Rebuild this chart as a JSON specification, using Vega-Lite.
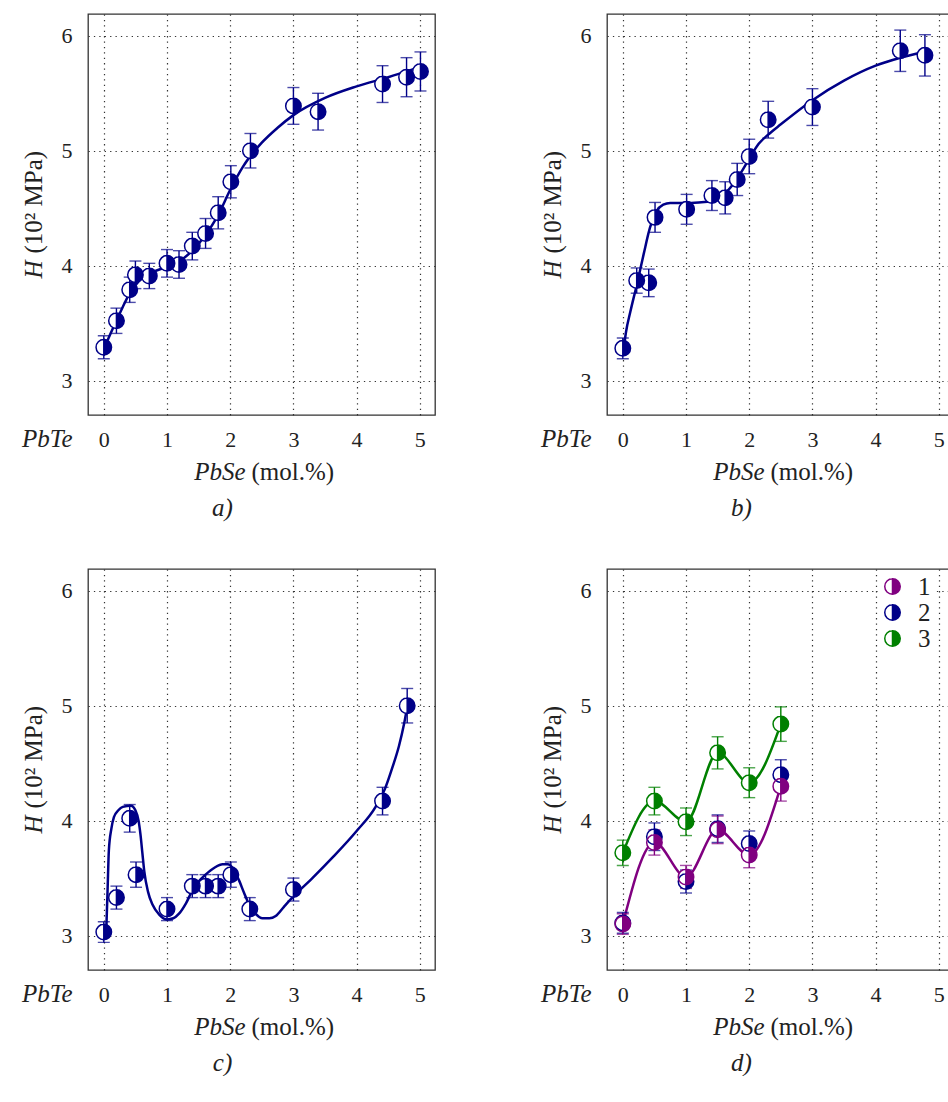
{
  "$schema": "https://vega.github.io/schema/vega-lite/v6.json",
  "padding": {"left": 20, "top": 13, "right": 0, "bottom": 0},
  "background": "white",
  "columns": 2,
  "spacing": {"row": 154, "column": 172},
  "bounds": "flush",
  "datasets": {
    "a": [
      {"x": 0, "y": 3.29, "err": 0.10}, {"x": 0.2, "y": 3.52, "err": 0.11}, {"x": 0.41, "y": 3.79, "err": 0.11},
      {"x": 0.5, "y": 3.92, "err": 0.12}, {"x": 0.72, "y": 3.91, "err": 0.11}, {"x": 1.0, "y": 4.02, "err": 0.12},
      {"x": 1.19, "y": 4.01, "err": 0.12}, {"x": 1.4, "y": 4.17, "err": 0.12}, {"x": 1.61, "y": 4.28, "err": 0.13},
      {"x": 1.81, "y": 4.46, "err": 0.14}, {"x": 2.01, "y": 4.73, "err": 0.14}, {"x": 2.32, "y": 5.0, "err": 0.15},
      {"x": 3.0, "y": 5.39, "err": 0.16}, {"x": 3.39, "y": 5.34, "err": 0.16}, {"x": 4.41, "y": 5.58, "err": 0.16},
      {"x": 4.79, "y": 5.64, "err": 0.17}, {"x": 5.01, "y": 5.69, "err": 0.17}
    ],
    "ca": [
      {"x": 0.0, "y": 3.27}, {"x": 0.1, "y": 3.4}, {"x": 0.2, "y": 3.52}, {"x": 0.3, "y": 3.64}, {"x": 0.4, "y": 3.75},
      {"x": 0.5, "y": 3.83}, {"x": 0.6, "y": 3.89}, {"x": 0.8, "y": 3.95}, {"x": 1.0, "y": 3.99}, {"x": 1.2, "y": 4.04},
      {"x": 1.4, "y": 4.13}, {"x": 1.6, "y": 4.26}, {"x": 1.8, "y": 4.43}, {"x": 2.0, "y": 4.66}, {"x": 2.2, "y": 4.86},
      {"x": 2.5, "y": 5.07}, {"x": 2.75, "y": 5.2}, {"x": 3.0, "y": 5.31}, {"x": 3.5, "y": 5.46}, {"x": 4.0, "y": 5.56},
      {"x": 4.5, "y": 5.64}, {"x": 4.9, "y": 5.71}
    ],
    "b": [
      {"x": 0, "y": 3.28, "err": 0.09}, {"x": 0.22, "y": 3.87, "err": 0.11}, {"x": 0.41, "y": 3.85, "err": 0.12},
      {"x": 0.51, "y": 4.42, "err": 0.13}, {"x": 1.01, "y": 4.49, "err": 0.13}, {"x": 1.41, "y": 4.61, "err": 0.13},
      {"x": 1.62, "y": 4.59, "err": 0.14}, {"x": 1.81, "y": 4.75, "err": 0.14}, {"x": 2.0, "y": 4.95, "err": 0.15},
      {"x": 2.3, "y": 5.27, "err": 0.16}, {"x": 3.0, "y": 5.38, "err": 0.16}, {"x": 4.39, "y": 5.87, "err": 0.18},
      {"x": 4.78, "y": 5.83, "err": 0.18}
    ],
    "cb": [
      {"x": 0.02, "y": 3.3}, {"x": 0.05, "y": 3.42}, {"x": 0.12, "y": 3.6}, {"x": 0.22, "y": 3.83}, {"x": 0.33, "y": 4.1},
      {"x": 0.43, "y": 4.33}, {"x": 0.53, "y": 4.47}, {"x": 0.64, "y": 4.53}, {"x": 0.75, "y": 4.545}, {"x": 1.0, "y": 4.545},
      {"x": 1.2, "y": 4.55}, {"x": 1.4, "y": 4.56}, {"x": 1.6, "y": 4.62}, {"x": 1.8, "y": 4.75}, {"x": 2.0, "y": 4.93},
      {"x": 2.15, "y": 5.06}, {"x": 2.3, "y": 5.14}, {"x": 2.5, "y": 5.23}, {"x": 3.0, "y": 5.44}, {"x": 3.5, "y": 5.61},
      {"x": 4.0, "y": 5.74}, {"x": 4.4, "y": 5.81}, {"x": 4.75, "y": 5.86}
    ],
    "c": [
      {"x": 0, "y": 3.03, "err": 0.09}, {"x": 0.2, "y": 3.33, "err": 0.10}, {"x": 0.41, "y": 4.02, "err": 0.12},
      {"x": 0.51, "y": 3.53, "err": 0.11}, {"x": 1.0, "y": 3.23, "err": 0.10}, {"x": 1.4, "y": 3.43, "err": 0.10},
      {"x": 1.61, "y": 3.43, "err": 0.10}, {"x": 1.81, "y": 3.43, "err": 0.10}, {"x": 2.01, "y": 3.53, "err": 0.11},
      {"x": 2.31, "y": 3.23, "err": 0.10}, {"x": 3.0, "y": 3.4, "err": 0.10}, {"x": 4.41, "y": 4.17, "err": 0.12},
      {"x": 4.8, "y": 5.0, "err": 0.15}
    ],
    "cc": [
      {"x": 0.04, "y": 3.06}, {"x": 0.06, "y": 3.4}, {"x": 0.08, "y": 3.74}, {"x": 0.12, "y": 3.93}, {"x": 0.16, "y": 4.03},
      {"x": 0.23, "y": 4.09}, {"x": 0.3, "y": 4.12}, {"x": 0.43, "y": 4.13}, {"x": 0.5, "y": 4.09}, {"x": 0.55, "y": 4.0},
      {"x": 0.58, "y": 3.88}, {"x": 0.61, "y": 3.72}, {"x": 0.64, "y": 3.56}, {"x": 0.7, "y": 3.38}, {"x": 0.77, "y": 3.27},
      {"x": 0.88, "y": 3.18}, {"x": 1.0, "y": 3.14}, {"x": 1.1, "y": 3.15}, {"x": 1.19, "y": 3.19}, {"x": 1.3, "y": 3.28},
      {"x": 1.4, "y": 3.39}, {"x": 1.5, "y": 3.47}, {"x": 1.61, "y": 3.53}, {"x": 1.75, "y": 3.59}, {"x": 1.88, "y": 3.62},
      {"x": 1.96, "y": 3.62}, {"x": 2.05, "y": 3.58}, {"x": 2.14, "y": 3.48}, {"x": 2.22, "y": 3.37}, {"x": 2.3, "y": 3.27},
      {"x": 2.4, "y": 3.19}, {"x": 2.51, "y": 3.15}, {"x": 2.62, "y": 3.15}, {"x": 2.72, "y": 3.17}, {"x": 2.85, "y": 3.25},
      {"x": 3.0, "y": 3.34}, {"x": 3.3, "y": 3.5}, {"x": 3.62, "y": 3.68}, {"x": 4.0, "y": 3.91}, {"x": 4.3, "y": 4.12},
      {"x": 4.45, "y": 4.28}, {"x": 4.57, "y": 4.47}, {"x": 4.67, "y": 4.65}, {"x": 4.75, "y": 4.84}, {"x": 4.8, "y": 4.99}
    ],
    "d": [
      {"x": 0, "y": 3.72, "err": 0.11, "s": "3"}, {"x": 0.5, "y": 4.17, "err": 0.12, "s": "3"}, {"x": 1.0, "y": 3.99, "err": 0.12, "s": "3"},
      {"x": 1.5, "y": 4.59, "err": 0.14, "s": "3"}, {"x": 2.0, "y": 4.33, "err": 0.13, "s": "3"}, {"x": 2.5, "y": 4.84, "err": 0.15, "s": "3"},
      {"x": 0, "y": 3.11, "err": 0.09, "s": "2"}, {"x": 0.5, "y": 3.86, "err": 0.12, "s": "2"}, {"x": 1.0, "y": 3.47, "err": 0.10, "s": "2"},
      {"x": 1.5, "y": 3.93, "err": 0.12, "s": "2"}, {"x": 2.0, "y": 3.8, "err": 0.11, "s": "2"}, {"x": 2.5, "y": 4.4, "err": 0.13, "s": "2"},
      {"x": 0, "y": 3.1, "err": 0.09, "s": "1"}, {"x": 0.5, "y": 3.81, "err": 0.11, "s": "1"}, {"x": 1.0, "y": 3.51, "err": 0.10, "s": "1"},
      {"x": 1.5, "y": 3.92, "err": 0.12, "s": "1"}, {"x": 2.0, "y": 3.7, "err": 0.11, "s": "1"}, {"x": 2.5, "y": 4.3, "err": 0.13, "s": "1"}
    ]
  },
  "concat": [
    {
      "width": 347, "height": 401,
      "layer": [
        {"data": {"name": "ca"}, "mark": {"type": "line", "color": "#000088", "strokeWidth": 2.5, "interpolate": "monotone"},
         "encoding": {
           "x": {"field": "x", "type": "quantitative", "scale": {"domain": [-0.25, 5.24], "nice": false, "zero": false},
                 "axis": {"orient": "bottom", "values": [0, 1, 2, 3, 4, 5], "format": "d", "grid": true, "labels": true, "labelBaseline": "alphabetic", "labelPadding": 31, "labelFlush": false, "labelOverlap": false, "title": "a)", "titleX": 134, "titleY": 100, "titleAlign": "center", "titleBaseline": "alphabetic", "titleFontStyle": "italic"}},
           "y": {"field": "y", "type": "quantitative", "scale": {"domain": [2.7, 6.19], "nice": false, "zero": false},
                 "axis": {"orient": "left", "values": [3, 3.5, 4, 4.5, 5, 5.5, 6], "format": "d", "labelExpr": "datum.value % 1 === 0 ? datum.label : ''", "labelPadding": 16, "labelBaseline": "middle", "labelFlush": false, "labelOverlap": false, "grid": true, "title": null}}
         }},
        {"data": {"name": "a"}, "mark": {"type": "errorbar", "color": "#000088", "thickness": 1.4, "ticks": {"size": 12, "thickness": 1.4}},
         "encoding": {
           "x": {"field": "x", "type": "quantitative", "scale": {"domain": [-0.25, 5.24], "nice": false, "zero": false},
                 "axis": {"orient": "bottom", "grid": false, "labels": false, "title": "(mol.%)", "titleX": 163, "titleY": 64, "titleAlign": "left", "titleBaseline": "alphabetic", "titleFontStyle": "normal"}},
           "y": {"field": "y", "type": "quantitative", "scale": {"domain": [2.7, 6.19], "nice": false, "zero": false}, "axis": null},
           "yError": {"field": "err"}
         }},
        {"data": {"name": "a"}, "mark": {"type": "point", "shape": "circle", "filled": true, "fill": "white", "size": 240, "opacity": 1, "strokeWidth": 0},
         "encoding": {
           "x": {"field": "x", "type": "quantitative", "scale": {"domain": [-0.25, 5.24], "nice": false, "zero": false},
                 "axis": {"orient": "bottom", "grid": false, "labels": false, "title": "PbTe", "titleX": -16, "titleY": 31, "titleAlign": "right", "titleBaseline": "alphabetic", "titleFontStyle": "italic"}},
           "y": {"field": "y", "type": "quantitative", "scale": {"domain": [2.7, 6.19], "nice": false, "zero": false},
                 "axis": {"orient": "left", "grid": false, "labels": false, "title": "H", "titleX": -47, "titleY": 264, "titleAngle": -90, "titleAlign": "left", "titleBaseline": "alphabetic", "titleFontStyle": "italic"}}
         }},
        {"data": {"name": "a"}, "mark": {"type": "point", "shape": "M0,-1A1,1,0,0,1,0,1ZM0,-1A1,1,0,0,0,0,1A1,1,0,0,1,0,-1", "filled": true, "fill": "#000088", "stroke": "#000088", "strokeWidth": 1.5, "size": 240, "opacity": 1},
         "encoding": {
           "x": {"field": "x", "type": "quantitative", "scale": {"domain": [-0.25, 5.24], "nice": false, "zero": false},
                 "axis": {"orient": "bottom", "grid": false, "labels": false, "title": "PbSe", "titleX": 157, "titleY": 64, "titleAlign": "right", "titleBaseline": "alphabetic", "titleFontStyle": "italic"}},
           "y": {"field": "y", "type": "quantitative", "scale": {"domain": [2.7, 6.19], "nice": false, "zero": false},
                 "axis": {"orient": "left", "grid": false, "labels": false, "title": "(10² MPa)", "titleX": -47, "titleY": 239, "titleAngle": -90, "titleAlign": "left", "titleBaseline": "alphabetic", "titleFontStyle": "normal"}}
         }}
      ],
      "resolve": {"axis": {"x": "independent", "y": "independent"}}
    },
    {
      "width": 347, "height": 401,
      "layer": [
        {"data": {"name": "cb"}, "mark": {"type": "line", "color": "#000088", "strokeWidth": 2.5, "interpolate": "monotone"},
         "encoding": {
           "x": {"field": "x", "type": "quantitative", "scale": {"domain": [-0.25, 5.24], "nice": false, "zero": false},
                 "axis": {"orient": "bottom", "values": [0, 1, 2, 3, 4, 5], "format": "d", "grid": true, "labels": true, "labelBaseline": "alphabetic", "labelPadding": 31, "labelFlush": false, "labelOverlap": false, "title": "b)", "titleX": 134, "titleY": 100, "titleAlign": "center", "titleBaseline": "alphabetic", "titleFontStyle": "italic"}},
           "y": {"field": "y", "type": "quantitative", "scale": {"domain": [2.7, 6.19], "nice": false, "zero": false},
                 "axis": {"orient": "left", "values": [3, 3.5, 4, 4.5, 5, 5.5, 6], "format": "d", "labelExpr": "datum.value % 1 === 0 ? datum.label : ''", "labelPadding": 16, "labelBaseline": "middle", "labelFlush": false, "labelOverlap": false, "grid": true, "title": null}}
         }},
        {"data": {"name": "b"}, "mark": {"type": "errorbar", "color": "#000088", "thickness": 1.4, "ticks": {"size": 12, "thickness": 1.4}},
         "encoding": {
           "x": {"field": "x", "type": "quantitative", "scale": {"domain": [-0.25, 5.24], "nice": false, "zero": false},
                 "axis": {"orient": "bottom", "grid": false, "labels": false, "title": "(mol.%)", "titleX": 163, "titleY": 64, "titleAlign": "left", "titleBaseline": "alphabetic", "titleFontStyle": "normal"}},
           "y": {"field": "y", "type": "quantitative", "scale": {"domain": [2.7, 6.19], "nice": false, "zero": false}, "axis": null},
           "yError": {"field": "err"}
         }},
        {"data": {"name": "b"}, "mark": {"type": "point", "shape": "circle", "filled": true, "fill": "white", "size": 240, "opacity": 1, "strokeWidth": 0},
         "encoding": {
           "x": {"field": "x", "type": "quantitative", "scale": {"domain": [-0.25, 5.24], "nice": false, "zero": false},
                 "axis": {"orient": "bottom", "grid": false, "labels": false, "title": "PbTe", "titleX": -16, "titleY": 31, "titleAlign": "right", "titleBaseline": "alphabetic", "titleFontStyle": "italic"}},
           "y": {"field": "y", "type": "quantitative", "scale": {"domain": [2.7, 6.19], "nice": false, "zero": false},
                 "axis": {"orient": "left", "grid": false, "labels": false, "title": "H", "titleX": -47, "titleY": 264, "titleAngle": -90, "titleAlign": "left", "titleBaseline": "alphabetic", "titleFontStyle": "italic"}}
         }},
        {"data": {"name": "b"}, "mark": {"type": "point", "shape": "M0,-1A1,1,0,0,1,0,1ZM0,-1A1,1,0,0,0,0,1A1,1,0,0,1,0,-1", "filled": true, "fill": "#000088", "stroke": "#000088", "strokeWidth": 1.5, "size": 240, "opacity": 1},
         "encoding": {
           "x": {"field": "x", "type": "quantitative", "scale": {"domain": [-0.25, 5.24], "nice": false, "zero": false},
                 "axis": {"orient": "bottom", "grid": false, "labels": false, "title": "PbSe", "titleX": 157, "titleY": 64, "titleAlign": "right", "titleBaseline": "alphabetic", "titleFontStyle": "italic"}},
           "y": {"field": "y", "type": "quantitative", "scale": {"domain": [2.7, 6.19], "nice": false, "zero": false},
                 "axis": {"orient": "left", "grid": false, "labels": false, "title": "(10² MPa)", "titleX": -47, "titleY": 239, "titleAngle": -90, "titleAlign": "left", "titleBaseline": "alphabetic", "titleFontStyle": "normal"}}
         }}
      ],
      "resolve": {"axis": {"x": "independent", "y": "independent"}}
    },
    {
      "width": 347, "height": 401,
      "layer": [
        {"data": {"name": "cc"}, "mark": {"type": "line", "color": "#000088", "strokeWidth": 2.5, "interpolate": "monotone"},
         "encoding": {
           "x": {"field": "x", "type": "quantitative", "scale": {"domain": [-0.25, 5.24], "nice": false, "zero": false},
                 "axis": {"orient": "bottom", "values": [0, 1, 2, 3, 4, 5], "format": "d", "grid": true, "labels": true, "labelBaseline": "alphabetic", "labelPadding": 31, "labelFlush": false, "labelOverlap": false, "title": "c)", "titleX": 134, "titleY": 100, "titleAlign": "center", "titleBaseline": "alphabetic", "titleFontStyle": "italic"}},
           "y": {"field": "y", "type": "quantitative", "scale": {"domain": [2.7, 6.19], "nice": false, "zero": false},
                 "axis": {"orient": "left", "values": [3, 3.5, 4, 4.5, 5, 5.5, 6], "format": "d", "labelExpr": "datum.value % 1 === 0 ? datum.label : ''", "labelPadding": 16, "labelBaseline": "middle", "labelFlush": false, "labelOverlap": false, "grid": true, "title": null}}
         }},
        {"data": {"name": "c"}, "mark": {"type": "errorbar", "color": "#000088", "thickness": 1.4, "ticks": {"size": 12, "thickness": 1.4}},
         "encoding": {
           "x": {"field": "x", "type": "quantitative", "scale": {"domain": [-0.25, 5.24], "nice": false, "zero": false},
                 "axis": {"orient": "bottom", "grid": false, "labels": false, "title": "(mol.%)", "titleX": 163, "titleY": 64, "titleAlign": "left", "titleBaseline": "alphabetic", "titleFontStyle": "normal"}},
           "y": {"field": "y", "type": "quantitative", "scale": {"domain": [2.7, 6.19], "nice": false, "zero": false}, "axis": null},
           "yError": {"field": "err"}
         }},
        {"data": {"name": "c"}, "mark": {"type": "point", "shape": "circle", "filled": true, "fill": "white", "size": 240, "opacity": 1, "strokeWidth": 0},
         "encoding": {
           "x": {"field": "x", "type": "quantitative", "scale": {"domain": [-0.25, 5.24], "nice": false, "zero": false},
                 "axis": {"orient": "bottom", "grid": false, "labels": false, "title": "PbTe", "titleX": -16, "titleY": 31, "titleAlign": "right", "titleBaseline": "alphabetic", "titleFontStyle": "italic"}},
           "y": {"field": "y", "type": "quantitative", "scale": {"domain": [2.7, 6.19], "nice": false, "zero": false},
                 "axis": {"orient": "left", "grid": false, "labels": false, "title": "H", "titleX": -47, "titleY": 264, "titleAngle": -90, "titleAlign": "left", "titleBaseline": "alphabetic", "titleFontStyle": "italic"}}
         }},
        {"data": {"name": "c"}, "mark": {"type": "point", "shape": "M0,-1A1,1,0,0,1,0,1ZM0,-1A1,1,0,0,0,0,1A1,1,0,0,1,0,-1", "filled": true, "fill": "#000088", "stroke": "#000088", "strokeWidth": 1.5, "size": 240, "opacity": 1},
         "encoding": {
           "x": {"field": "x", "type": "quantitative", "scale": {"domain": [-0.25, 5.24], "nice": false, "zero": false},
                 "axis": {"orient": "bottom", "grid": false, "labels": false, "title": "PbSe", "titleX": 157, "titleY": 64, "titleAlign": "right", "titleBaseline": "alphabetic", "titleFontStyle": "italic"}},
           "y": {"field": "y", "type": "quantitative", "scale": {"domain": [2.7, 6.19], "nice": false, "zero": false},
                 "axis": {"orient": "left", "grid": false, "labels": false, "title": "(10² MPa)", "titleX": -47, "titleY": 239, "titleAngle": -90, "titleAlign": "left", "titleBaseline": "alphabetic", "titleFontStyle": "normal"}}
         }}
      ],
      "resolve": {"axis": {"x": "independent", "y": "independent"}}
    },
    {
      "width": 347, "height": 401,
      "layer": [
        {"data": {"name": "d"}, "transform": [{"filter": "datum.s !== '2'"}],
         "mark": {"type": "line", "strokeWidth": 2.5, "interpolate": "monotone"},
         "encoding": {
           "x": {"field": "x", "type": "quantitative", "scale": {"domain": [-0.25, 5.24], "nice": false, "zero": false},
                 "axis": {"orient": "bottom", "values": [0, 1, 2, 3, 4, 5], "format": "d", "grid": true, "labels": true, "labelBaseline": "alphabetic", "labelPadding": 31, "labelFlush": false, "labelOverlap": false, "title": "d)", "titleX": 134, "titleY": 100, "titleAlign": "center", "titleBaseline": "alphabetic", "titleFontStyle": "italic"}},
           "y": {"field": "y", "type": "quantitative", "scale": {"domain": [2.7, 6.19], "nice": false, "zero": false},
                 "axis": {"orient": "left", "values": [3, 3.5, 4, 4.5, 5, 5.5, 6], "format": "d", "labelExpr": "datum.value % 1 === 0 ? datum.label : ''", "labelPadding": 16, "labelBaseline": "middle", "labelFlush": false, "labelOverlap": false, "grid": true, "title": null}},
           "color": {"field": "s", "type": "nominal", "scale": {"domain": ["1", "2", "3"], "range": ["#800080", "#000088", "#008000"]}, "legend": null}
         }},
        {"data": {"name": "d"}, "mark": {"type": "errorbar", "thickness": 1.4, "ticks": {"size": 12, "thickness": 1.4}},
         "encoding": {
           "x": {"field": "x", "type": "quantitative", "scale": {"domain": [-0.25, 5.24], "nice": false, "zero": false},
                 "axis": {"orient": "bottom", "grid": false, "labels": false, "title": "(mol.%)", "titleX": 163, "titleY": 64, "titleAlign": "left", "titleBaseline": "alphabetic", "titleFontStyle": "normal"}},
           "y": {"field": "y", "type": "quantitative", "scale": {"domain": [2.7, 6.19], "nice": false, "zero": false}, "axis": null},
           "yError": {"field": "err"},
           "color": {"field": "s", "type": "nominal", "scale": {"domain": ["1", "2", "3"], "range": ["#800080", "#000088", "#008000"]}, "legend": null}
         }},
        {"data": {"name": "d"}, "mark": {"type": "point", "shape": "circle", "filled": true, "fill": "white", "size": 240, "opacity": 1, "strokeWidth": 0},
         "encoding": {
           "x": {"field": "x", "type": "quantitative", "scale": {"domain": [-0.25, 5.24], "nice": false, "zero": false},
                 "axis": {"orient": "bottom", "grid": false, "labels": false, "title": "PbTe", "titleX": -16, "titleY": 31, "titleAlign": "right", "titleBaseline": "alphabetic", "titleFontStyle": "italic"}},
           "y": {"field": "y", "type": "quantitative", "scale": {"domain": [2.7, 6.19], "nice": false, "zero": false},
                 "axis": {"orient": "left", "grid": false, "labels": false, "title": "H", "titleX": -47, "titleY": 264, "titleAngle": -90, "titleAlign": "left", "titleBaseline": "alphabetic", "titleFontStyle": "italic"}}
         }},
        {"data": {"name": "d"}, "mark": {"type": "point", "shape": "M0,-1A1,1,0,0,1,0,1ZM0,-1A1,1,0,0,0,0,1A1,1,0,0,1,0,-1", "filled": true, "strokeWidth": 1.5, "size": 240, "opacity": 1},
         "encoding": {
           "x": {"field": "x", "type": "quantitative", "scale": {"domain": [-0.25, 5.24], "nice": false, "zero": false},
                 "axis": {"orient": "bottom", "grid": false, "labels": false, "title": "PbSe", "titleX": 157, "titleY": 64, "titleAlign": "right", "titleBaseline": "alphabetic", "titleFontStyle": "italic"}},
           "y": {"field": "y", "type": "quantitative", "scale": {"domain": [2.7, 6.19], "nice": false, "zero": false},
                 "axis": {"orient": "left", "grid": false, "labels": false, "title": "(10² MPa)", "titleX": -47, "titleY": 239, "titleAngle": -90, "titleAlign": "left", "titleBaseline": "alphabetic", "titleFontStyle": "normal"}},
           "color": {"field": "s", "type": "nominal", "scale": {"domain": ["1", "2", "3"], "range": ["#800080", "#000088", "#008000"]},
                     "legend": {"orient": "none", "legendX": 271, "legendY": 3, "title": null, "symbolType": "M0,-1A1,1,0,0,1,0,1ZM0,-1A1,1,0,0,0,0,1A1,1,0,0,1,0,-1", "symbolSize": 240, "symbolStrokeWidth": 1.5, "symbolOpacity": 1, "labelFont": "Liberation Serif, Times New Roman, DejaVu Serif, serif", "labelFontSize": 25, "labelColor": "#222", "labelOffset": 13, "rowPadding": 0, "fillColor": "white", "padding": 2}},
           "stroke": {"field": "s", "type": "nominal", "scale": {"domain": ["1", "2", "3"], "range": ["#800080", "#000088", "#008000"]},
                     "legend": {"orient": "none", "legendX": 271, "legendY": 3, "title": null, "symbolType": "M0,-1A1,1,0,0,1,0,1ZM0,-1A1,1,0,0,0,0,1A1,1,0,0,1,0,-1", "symbolSize": 240, "symbolStrokeWidth": 1.5, "symbolOpacity": 1, "labelFont": "Liberation Serif, Times New Roman, DejaVu Serif, serif", "labelFontSize": 25, "labelColor": "#222", "labelOffset": 13, "rowPadding": 0, "fillColor": "white", "padding": 2}}
         }}
      ],
      "resolve": {"axis": {"x": "independent", "y": "independent"}, "legend": {"color": "independent", "stroke": "independent"}}
    }
  ],
  "config": {
    "font": "Liberation Serif, Times New Roman, DejaVu Serif, serif",
    "view": {"stroke": "#333", "strokeWidth": 1.3},
    "axis": {
      "domain": false, "ticks": false,
      "gridColor": "#333", "gridDash": [1.3, 4.1], "gridWidth": 1.2, "gridOpacity": 1,
      "labelFont": "Liberation Serif, Times New Roman, DejaVu Serif, serif", "labelFontSize": 22, "labelColor": "#222",
      "titleFont": "Liberation Serif, Times New Roman, DejaVu Serif, serif", "titleFontSize": 25, "titleColor": "#222", "titleFontWeight": "normal"
    }
  }
}
